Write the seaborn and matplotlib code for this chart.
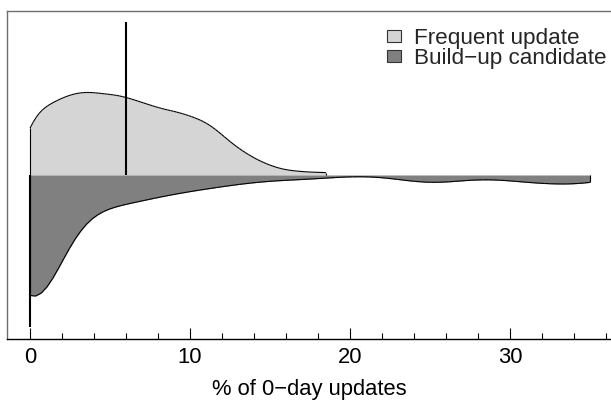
import numpy as np
import pandas as pd
import matplotlib
matplotlib.use("Agg")
import matplotlib.pyplot as plt
import seaborn as sns
from matplotlib.collections import LineCollection
from matplotlib.patches import Patch

# ---- data (given as value / count tables) ----
groups = ["Frequent update", "Build\u2212up candidate"]
colors = ["#d4d5d4", "#808080"]

frequent_values = [0, 0.5, 1, 1.5, 2, 2.5, 3, 3.5, 4, 4.5, 5, 5.5, 6, 6.5, 7, 7.5,
                   8, 8.5, 9, 9.5, 10, 10.5, 11, 11.5, 12, 12.5, 13, 13.5, 14, 14.5,
                   15, 16, 17, 18.5]
frequent_counts = [11, 8, 8, 9, 10, 10, 10, 11, 10, 10, 10, 10, 10, 9, 9, 9,
                   8, 8, 8, 8, 7, 7, 7, 6, 5, 4, 3, 3, 2, 1,
                   2, 1, 1, 1]

buildup_values = [0, 1, 2, 3, 4, 5, 6, 7, 8, 9, 10, 11, 12, 13, 14, 15, 16, 17, 18, 19,
                  23, 24, 25, 26, 27, 29, 30, 31, 32, 33, 34, 35]
buildup_counts = [408, 25, 25, 26, 27, 28, 25, 20, 17, 15, 13, 11, 10, 7, 5, 4, 4, 4, 4, 2,
                  1, 8, 10, 9, 3, 1, 6, 7, 7, 7, 8, 14]

xticks = [0, 10, 20, 30]
xlabel = "% of 0\u2212day updates"

# ---- style ----
sns.set_theme(style="white")
plt.rcParams["font.family"] = ["Liberation Sans", "DejaVu Sans"]
FS = 15.8

frequent = np.repeat(frequent_values, frequent_counts)
buildup = np.repeat(buildup_values, buildup_counts)
df = pd.DataFrame({
    "value": np.concatenate([frequent, buildup]),
    "group": [groups[0]] * len(frequent) + [groups[1]] * len(buildup),
})

fig = plt.figure(figsize=(6.11, 4.0), dpi=100)
ax = fig.add_axes([7 / 611, 1 - 339 / 400, 604 / 611, 328 / 400])

sns.violinplot(data=df, x="value", hue="group", hue_order=groups, palette=colors,
               split=True, inner=None, cut=0, bw_method=0.2, density_norm="area",
               common_norm=True, width=0.738, linewidth=0, saturation=1,
               legend=False, ax=ax)

# outline of each half, without the straight centre edge
segs = []
for coll in list(ax.collections):
    for path in coll.get_paths():
        for poly in path.to_polygons():
            for a, b in zip(poly[:-1], poly[1:]):
                if abs(a[1]) < 1e-6 and abs(b[1]) < 1e-6:
                    continue
                segs.append([a, b])
ax.add_collection(LineCollection(segs, colors="black", linewidths=0.8, zorder=3))

# median bean lines
med_f = np.median(frequent)
med_b = np.median(buildup)
ax.plot([med_f, med_f], [0, -0.466], color="black", lw=1.5, solid_capstyle="butt", zorder=4)
ax.plot([med_b, med_b], [0, 0.462], color="black", lw=1.5, solid_capstyle="butt", zorder=4)

ax.set_ylim(0.5, -0.5)
ax.set_xlim(-23 / 16, 581 / 16)
ax.set_yticks([])
ax.set_ylabel("")
ax.set_xticks(xticks)
ax.set_xticks([t for t in range(2, 37, 2) if t % 10], minor=True)
ax.tick_params(axis="x", which="both", bottom=True, direction="in", width=0.8,
               color="black", labelsize=FS, pad=6.0, labelcolor="black")
ax.tick_params(axis="x", which="major", length=7.9)
ax.tick_params(axis="x", which="minor", length=4.3)
ax.set_xlabel(xlabel, fontsize=FS, labelpad=8.0, color="black")

ax.spines["right"].set_visible(False)
for s in ["top", "left"]:
    ax.spines[s].set_color("#6e6e6e")
    ax.spines[s].set_linewidth(1.0)
ax.spines["bottom"].set_color("black")
ax.spines["bottom"].set_linewidth(1.0)

handles = [Patch(facecolor=c, edgecolor="#333333", linewidth=0.8) for c in colors]
fig.legend(handles, groups, loc="upper left", bbox_to_anchor=(387 / 611, 1 - 28 / 400),
           frameon=False, fontsize=16.2, handlelength=0.6, handleheight=0.41,
           handletextpad=0.62, labelspacing=-0.05, borderpad=0, borderaxespad=0)

fig.savefig("out.png", dpi=100)
